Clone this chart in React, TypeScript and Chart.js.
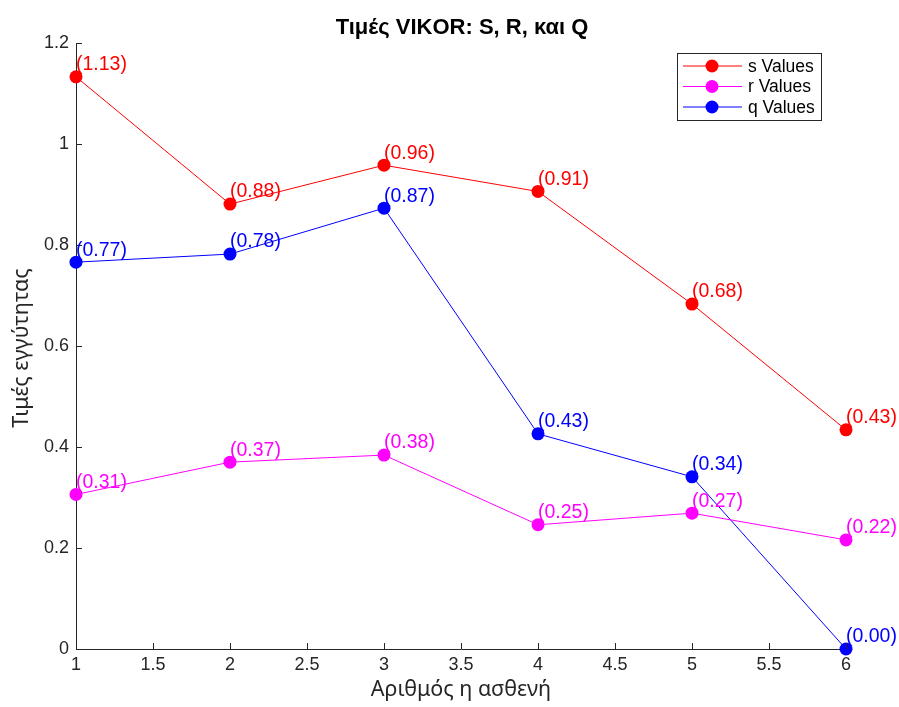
import React, { useEffect, useRef } from "react";
import { Chart, registerables } from "chart.js";

Chart.register(...registerables);

const patients = [1, 2, 3, 4, 5, 6];
const sValues = [1.133, 0.881, 0.958, 0.906, 0.683, 0.434];
const rValues = [0.306, 0.37, 0.384, 0.246, 0.269, 0.216];
const qValues = [0.766, 0.782, 0.873, 0.426, 0.341, 0.0];
const seriesNames = ["s Values", "r Values", "q Values"];
const seriesColors = ["#ff0000", "#ff00ff", "#0000ff"];
const xTicks = [1, 1.5, 2, 2.5, 3, 3.5, 4, 4.5, 5, 5.5, 6];
const yTicks = [0, 0.2, 0.4, 0.6, 0.8, 1, 1.2];
const titleText = "Τιμές VIKOR: S, R, και Q";
const xLabel = "Αριθμός η ασθενή";
const yLabel = "Τιμές εγγύτητας";

const FONT = "'Liberation Sans', Arial, Helvetica, sans-serif";
const LABEL_FONT = "'Noto Sans', 'Liberation Sans', Arial, sans-serif";
const AXIS = "#262626";

const overlayPlugin = {
  id: "overlay",
  afterDatasetsDraw(chart: any) {
    const ctx = chart.ctx as CanvasRenderingContext2D;
    const xs = chart.scales.x;
    const ys = chart.scales.y;
    const area = chart.chartArea;
    ctx.save();
    // inward ticks
    ctx.strokeStyle = AXIS;
    ctx.lineWidth = 1;
    ctx.beginPath();
    xTicks.forEach((t) => {
      const px = Math.round(xs.getPixelForValue(t)) + 0.5;
      ctx.moveTo(px, area.bottom);
      ctx.lineTo(px, area.bottom - 6);
    });
    yTicks.forEach((t) => {
      const py = Math.round(ys.getPixelForValue(t)) + 0.5;
      ctx.moveTo(area.left, py);
      ctx.lineTo(area.left + 6, py);
    });
    ctx.stroke();

    // data labels
    ctx.font = `19.5px ${FONT}`;
    ctx.textAlign = "left";
    ctx.textBaseline = "middle";
    chart.data.datasets.forEach((ds: any, i: number) => {
      ctx.fillStyle = seriesColors[i];
      ds.data.forEach((p: any) => {
        const px = xs.getPixelForValue(p.x);
        const py = ys.getPixelForValue(p.y);
        ctx.fillText(`(${p.y.toFixed(2)})`, px, py - 12);
      });
    });

    // title
    ctx.fillStyle = "#000";
    ctx.font = `bold 22px ${FONT}`;
    ctx.textAlign = "center";
    ctx.fillText(titleText, (area.left + area.right) / 2 + 1, 28);

    // axis labels
    ctx.fillStyle = AXIS;
    ctx.font = `21.5px ${LABEL_FONT}`;
    ctx.fillText(xLabel, (area.left + area.right) / 2, 690);
    ctx.save();
    ctx.translate(22, (area.top + area.bottom) / 2 + 2);
    ctx.rotate(-Math.PI / 2);
    ctx.fillText(yLabel, 0, 0);
    ctx.restore();

    // legend
    const lx = 677.5, ly = 53.5, lw = 144, lh = 67;
    ctx.fillStyle = "#fff";
    ctx.fillRect(lx, ly, lw, lh);
    ctx.strokeStyle = AXIS;
    ctx.lineWidth = 1;
    ctx.strokeRect(lx, ly, lw, lh);
    ctx.font = `17.5px ${FONT}`;
    ctx.textAlign = "left";
    ctx.textBaseline = "middle";
    seriesNames.forEach((name, i) => {
      const y = 66 + i * 20.5;
      ctx.strokeStyle = seriesColors[i];
      ctx.beginPath();
      ctx.moveTo(683, y);
      ctx.lineTo(742, y);
      ctx.stroke();
      ctx.fillStyle = seriesColors[i];
      ctx.beginPath();
      ctx.arc(712, y, 6.5, 0, Math.PI * 2);
      ctx.fill();
      ctx.fillStyle = "#000";
      ctx.fillText(name, 748, y + 1);
    });
    ctx.restore();
  },
};

export default function App() {
  const ref = useRef<HTMLCanvasElement | null>(null);
  useEffect(() => {
    if (!ref.current) return;
    const mk = (vals: number[], i: number) => ({
      label: seriesNames[i],
      data: patients.map((x, k) => ({ x, y: vals[k] })),
      borderColor: seriesColors[i],
      backgroundColor: seriesColors[i],
      pointBackgroundColor: seriesColors[i],
      pointBorderColor: seriesColors[i],
      pointRadius: 6.5,
      pointBorderWidth: 0,
      borderWidth: 1,
      tension: 0,
      clip: false as any,
    });
    const chart = new Chart(ref.current, {
      type: "line",
      data: {
        datasets: [mk(sValues, 0), mk(rValues, 1), mk(qValues, 2)],
      },
      plugins: [overlayPlugin],
      options: {
        animation: false,
        responsive: false,
        events: [],
        layout: { padding: { top: 43, right: 53, left: 0, bottom: 0 } },
        plugins: { legend: { display: false }, tooltip: { enabled: false }, title: { display: false } },
        scales: {
          x: {
            type: "linear",
            min: 1,
            max: 6,
            afterFit: (s: any) => { s.height = 58; },
            afterBuildTicks: (s: any) => { s.ticks = xTicks.map((v) => ({ value: v })); },
            grid: { display: true, drawOnChartArea: false, drawTicks: false },
            border: { display: true, color: AXIS, width: 1 },
            ticks: {
              color: AXIS,
              font: { family: FONT, size: 18 },
              padding: 5,
              maxRotation: 0,
              autoSkip: false,
              callback: (v: any) => String(v),
            },
          },
          y: {
            type: "linear",
            min: 0,
            max: 1.2,
            afterFit: (s: any) => { s.width = 76; },
            afterBuildTicks: (s: any) => { s.ticks = yTicks.map((v) => ({ value: v })); },
            grid: { display: true, drawOnChartArea: false, drawTicks: false },
            border: { display: true, color: AXIS, width: 1 },
            ticks: {
              color: AXIS,
              font: { family: FONT, size: 18 },
              padding: 7,
              autoSkip: false,
              callback: (v: any) => String(Math.round(v * 10) / 10),
            },
          },
        },
      },
    });
    return () => chart.destroy();
  }, []);
  return (
    <div style={{ position: "fixed", left: 0, top: 0, width: 899, height: 707, background: "#fff" }}>
      <canvas ref={ref} width={899} height={707} style={{ display: "block", width: 899, height: 707 }} />
    </div>
  );
}
